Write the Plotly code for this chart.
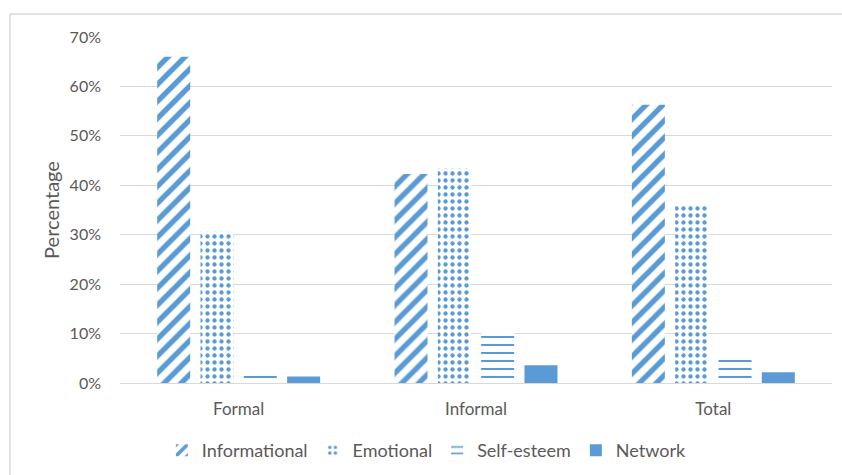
import plotly.graph_objects as go

categories = ["Formal", "Informal", "Total"]
informational = [0.66, 0.423, 0.563]
emotional = [0.306, 0.434, 0.362]
self_esteem = [0.016, 0.101, 0.049]
network = [0.013, 0.036, 0.022]

blue = "#5B9BD5"
series = [
    ("Informational", informational, dict(shape="/", size=12, solidity=0.45)),
    ("Emotional", emotional, dict(shape=".", size=7, solidity=0.3)),
    ("Self-esteem", self_esteem, dict(shape="-", size=8, solidity=0.25)),
    ("Network", network, None),
]

fig = go.Figure()
for name, vals, pat in series:
    marker = dict(color=blue if pat is None else "white", line=dict(width=0))
    if pat is not None:
        pat.update(fgcolor=blue, bgcolor="white", fgopacity=1, fillmode="overlay")
        marker["pattern"] = pat
    fig.add_trace(go.Bar(name=name, x=categories, y=vals, marker=marker))

font = "Lato, 'Open Sans', sans-serif"
fig.update_layout(
    width=842, height=475,
    margin=dict(l=120, r=10, t=37, b=92, autoexpand=False),
    paper_bgcolor="white", plot_bgcolor="white",
    barmode="group", bargap=0.27, bargroupgap=0.238,
    font=dict(family=font, size=16, color="#595959"),
    legend=dict(orientation="h", x=0.431, xanchor="center", y=-0.195, yanchor="middle",
                font=dict(size=18, color="#595959"), itemwidth=30),
    showlegend=True,
    xaxis=dict(showgrid=False, showline=True, linecolor="#D9D9D9", linewidth=1,
               ticks="", tickfont=dict(size=17), ticklabelstandoff=11),
    yaxis=dict(range=[0, 0.7], dtick=0.1, tickformat=".0%", showgrid=True,
               gridcolor="#D9D9D9", gridwidth=1, zeroline=False, showline=False,
               ticks="", ticklabelstandoff=18, tickfont=dict(size=16),
               title=dict(text="Percentage", font=dict(size=20), standoff=4)),
    shapes=[
        dict(type="line", xref="paper", yref="paper", x0=-0.1545, x1=1.02, y0=1.0665, y1=1.0665,
             line=dict(color="#D9D9D9", width=1.5)),
        dict(type="line", xref="paper", yref="paper", x0=-0.1545, x1=-0.1545, y0=1.0665, y1=-0.27,
             line=dict(color="#D9D9D9", width=1.5)),
    ],
)

fig.write_html("out.html")
